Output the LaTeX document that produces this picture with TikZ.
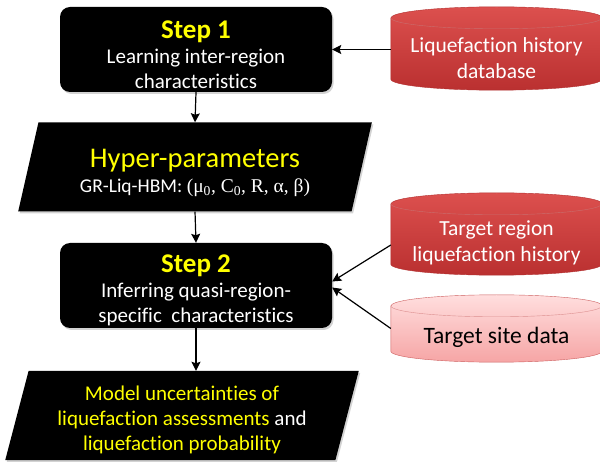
\documentclass[tikz,border=0pt]{standalone}
\usepackage{fontspec}
\setmainfont{Carlito}[Ligatures=NoCommon]
\newfontfamily\parfont{Liberation Serif}
\usetikzlibrary{shapes.geometric, shadows, arrows.meta, backgrounds}
\definecolor{hiyellow}{RGB}{255,255,0}
\definecolor{redtop}{RGB}{220,80,78}
\definecolor{redbot}{RGB}{186,48,48}
\definecolor{redline}{RGB}{178,48,48}
\definecolor{pinktop}{RGB}{255,222,222}
\definecolor{pinkbot}{RGB}{246,165,165}
\definecolor{pinkline}{RGB}{205,95,95}
\newcommand{\bodyfont}{\fontsize{21}{25}\selectfont}
\newcommand{\topgap}[1]{\rule{0pt}{#1}}
\newcommand{\steptitle}[1]{{\fontsize{27}{29}\selectfont\bfseries\color{hiyellow}\topgap{28pt}#1}}
% can outline behind a named node: #1 node, #2 shading, #3 line colour
\newcommand{\dbcan}[3]{
\begin{scope}[on background layer, line width=0.6pt]
\path[#2, draw=#3] ([yshift=-11pt]#1.north west) -- ([yshift=11pt]#1.south west)
  arc[start angle=180, end angle=360, x radius=105.5pt, y radius=11pt]
  -- ([yshift=-11pt]#1.north east)
  arc[start angle=0, end angle=180, x radius=105.5pt, y radius=11pt] -- cycle;
\draw[#3!70] ([yshift=-11pt]#1.north west)
  arc[start angle=180, end angle=360, x radius=105.5pt, y radius=11pt];
\end{scope}
}

\tikzset{
  boxshadow/.style={drop shadow={shadow xshift=1.5pt, shadow yshift=-2pt, opacity=.35, fill=gray}},
  stepbox/.style={fill=black, rounded corners=10pt, minimum width=272pt, minimum height=85pt,
    inner sep=0pt, text=white, align=center, font=\bodyfont, boxshadow},
  iobox/.style={trapezium, trapezium left angle=76, trapezium right angle=104,
    trapezium stretches=true, fill=black, minimum width=354pt, minimum height=89pt,
    inner sep=0pt, text=white, align=center, font=\bodyfont, boxshadow},
  dbase/.style={minimum width=211pt, inner sep=0pt, align=center, text=white,
    font=\fontsize{21.5}{26}\selectfont},
  sitebase/.style={dbase, text=black, font=\fontsize{23.5}{26}\selectfont},
  redcan/.style={top color=redtop, bottom color=redbot},
  pinkcan/.style={top color=pinktop, bottom color=pinkbot},
  flow/.style={line width=1.2pt, -{Stealth[length=9pt, width=9pt, inset=1.5pt]}}
}

\begin{document}
\begin{tikzpicture}[x=1pt, y=-1pt]
\useasboundingbox (0,0) rectangle (600,462);

% main column
\node[stepbox] (step1) at (196,49.5) {\steptitle{Step 1}\\Learning inter-region\\characteristics};
\node[iobox] (hyper) at (195,167)
  {{\fontsize{28.5}{31}\selectfont\color{hiyellow}\topgap{30.5pt}Hyper-parameters}\\[0pt]
   \fontsize{19.5}{22}\selectfont GR-Liq-HBM: {\parfont(μ\textsubscript{0}, C\textsubscript{0}, R, α, β)}};
\node[stepbox] (step2) at (196,285.5) {\steptitle{Step 2}\\Inferring quasi-region-\\specific\ \ characteristics};
\node[iobox] (output) at (182,415.5)
  {\color{hiyellow}\topgap{22.5pt}Model uncertainties of\\
   \color{hiyellow}liquefaction assessments \color{white}and\\
   \color{hiyellow}liquefaction probability};

% data sources
\node[dbase, minimum height=83pt] (history) at (496.5,48.5) {\topgap{35pt}Liquefaction history\\database};
\node[dbase, minimum height=82pt] (region) at (496.5,234) {\topgap{32.5pt}Target region\\liquefaction history};
\node[sitebase, minimum height=67pt] (site) at (496.5,328.5) {\topgap{34pt}Target site data};
\dbcan{history}{redcan}{redline}
\dbcan{region}{redcan}{redline}
\dbcan{site}{pinkcan}{pinkline}

% connectors
\draw[flow] (step1.south) -- (hyper.north);
\draw[flow] (hyper.south) -- (step2.north);
\draw[flow] (step2.south) -- (step2.south |- output.north);
\draw[flow] (history.west |- step1.east) -- (step1.east);
\draw[flow] ([yshift=-11pt]region.west) -- ([yshift=4pt]step2.east);
\draw[flow] (site.west) -- ([yshift=-2pt]step2.east);
\end{tikzpicture}
\end{document}
